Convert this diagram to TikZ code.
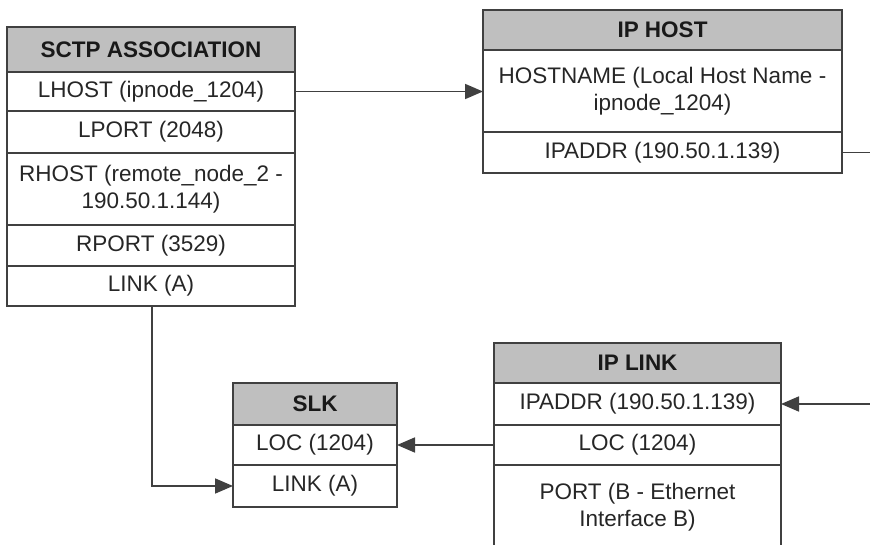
\documentclass[tikz,border=0pt]{standalone}
\usepackage{fontspec}
\setmainfont{Liberation Sans}
\usetikzlibrary{positioning}
\usetikzlibrary{arrows.meta}
\newcommand\tblfont{\fontsize{22.5}{27}\selectfont}
\tikzset{
  cell/.style= {draw=black!75, line width=1.8pt, inner sep=0pt, outer sep=0pt, align=center, text=black!85, font=\tblfont, minimum height=41pt},
  head/.style= {cell, fill=gray!50, font=\tblfont\bfseries, text=black!90},
  link/.style= {draw=black!75, line width=1.8pt},
  tip/.style= {link, -{Triangle[length=18pt, width=15pt]}},
}

\begin{document}
\begin{tikzpicture}[x=1pt, y=-1pt]
  \clip (0,0) rectangle (870,545);
  % sctp association
  \begin{scope}[every node/.append style={minimum width=288pt}]
    \node [head, anchor=north west, minimum height=45pt] (sa) at (7,27) {SCTP ASSOCIATION};
    \node [cell, below=0pt of sa, minimum height=39pt] (sa-lhost) {LHOST (ipnode\_1204)};
    \node [cell, below=0pt of sa-lhost, minimum height=42pt] (sa-lport) {LPORT (2048)};
    \node [cell, below=0pt of sa-lport, minimum height=72pt] (sa-rhost) {RHOST (remote\_node\_2 -\\190.50.1.144)};
    \node [cell, below=0pt of sa-rhost] (sa-rport) {RPORT (3529)};
    \node [cell, below=0pt of sa-rport, minimum height=40pt] (sa-link) {LINK (A)};
  \end{scope}
  % ip host
  \begin{scope}[every node/.append style={minimum width=359pt}]
    \node [head, anchor=north west, minimum height=40pt] (ih) at (483,10) {IP HOST};
    \node [cell, below=0pt of ih, minimum height=82pt] (ih-name) {HOSTNAME (Local Host Name -\\ipnode\_1204)};
    \node [cell, below=0pt of ih-name] (ih-addr) {IPADDR (190.50.1.139)};
  \end{scope}
  % slk
  \begin{scope}[every node/.append style={minimum width=164pt}]
    \node [head, anchor=north west, minimum height=42pt] (slk) at (233,383) {SLK};
    \node [cell, below=0pt of slk, minimum height=40pt] (slk-loc) {LOC (1204)};
    \node [cell, below=0pt of slk-loc, minimum height=42pt] (slk-link) {LINK (A)};
  \end{scope}
  % ip link
  \begin{scope}[every node/.append style={minimum width=287pt}]
    \node [head, anchor=north west, minimum height=40pt] (il) at (494,343) {IP LINK};
    \node [cell, below=0pt of il, minimum height=42pt] (il-addr) {IPADDR (190.50.1.139)};
    \node [cell, below=0pt of il-addr, minimum height=40pt] (il-loc) {LOC (1204)};
    \node [cell, below=0pt of il-loc, minimum height=84pt] (il-port) {PORT (B - Ethernet\\Interface B)};
  \end{scope}

  \coordinate (ihout) at (880,152);
  \coordinate (ilin) at (880,406);
  \coordinate (bend) at (152,0);

  \draw [tip] (sa-lhost.east) -- (sa-lhost.east -| ih-name.west);
  \draw [link] (ih-addr.east) -- (ih-addr.east -| ihout);
  \draw [tip] (il-addr.east -| ilin) -- (il-addr.east);
  \draw [tip] (il-loc.west) -- (slk-loc.east);
  \draw [tip] (sa-link.south -| bend) |- (slk-link.west);
\end{tikzpicture}
\end{document}
